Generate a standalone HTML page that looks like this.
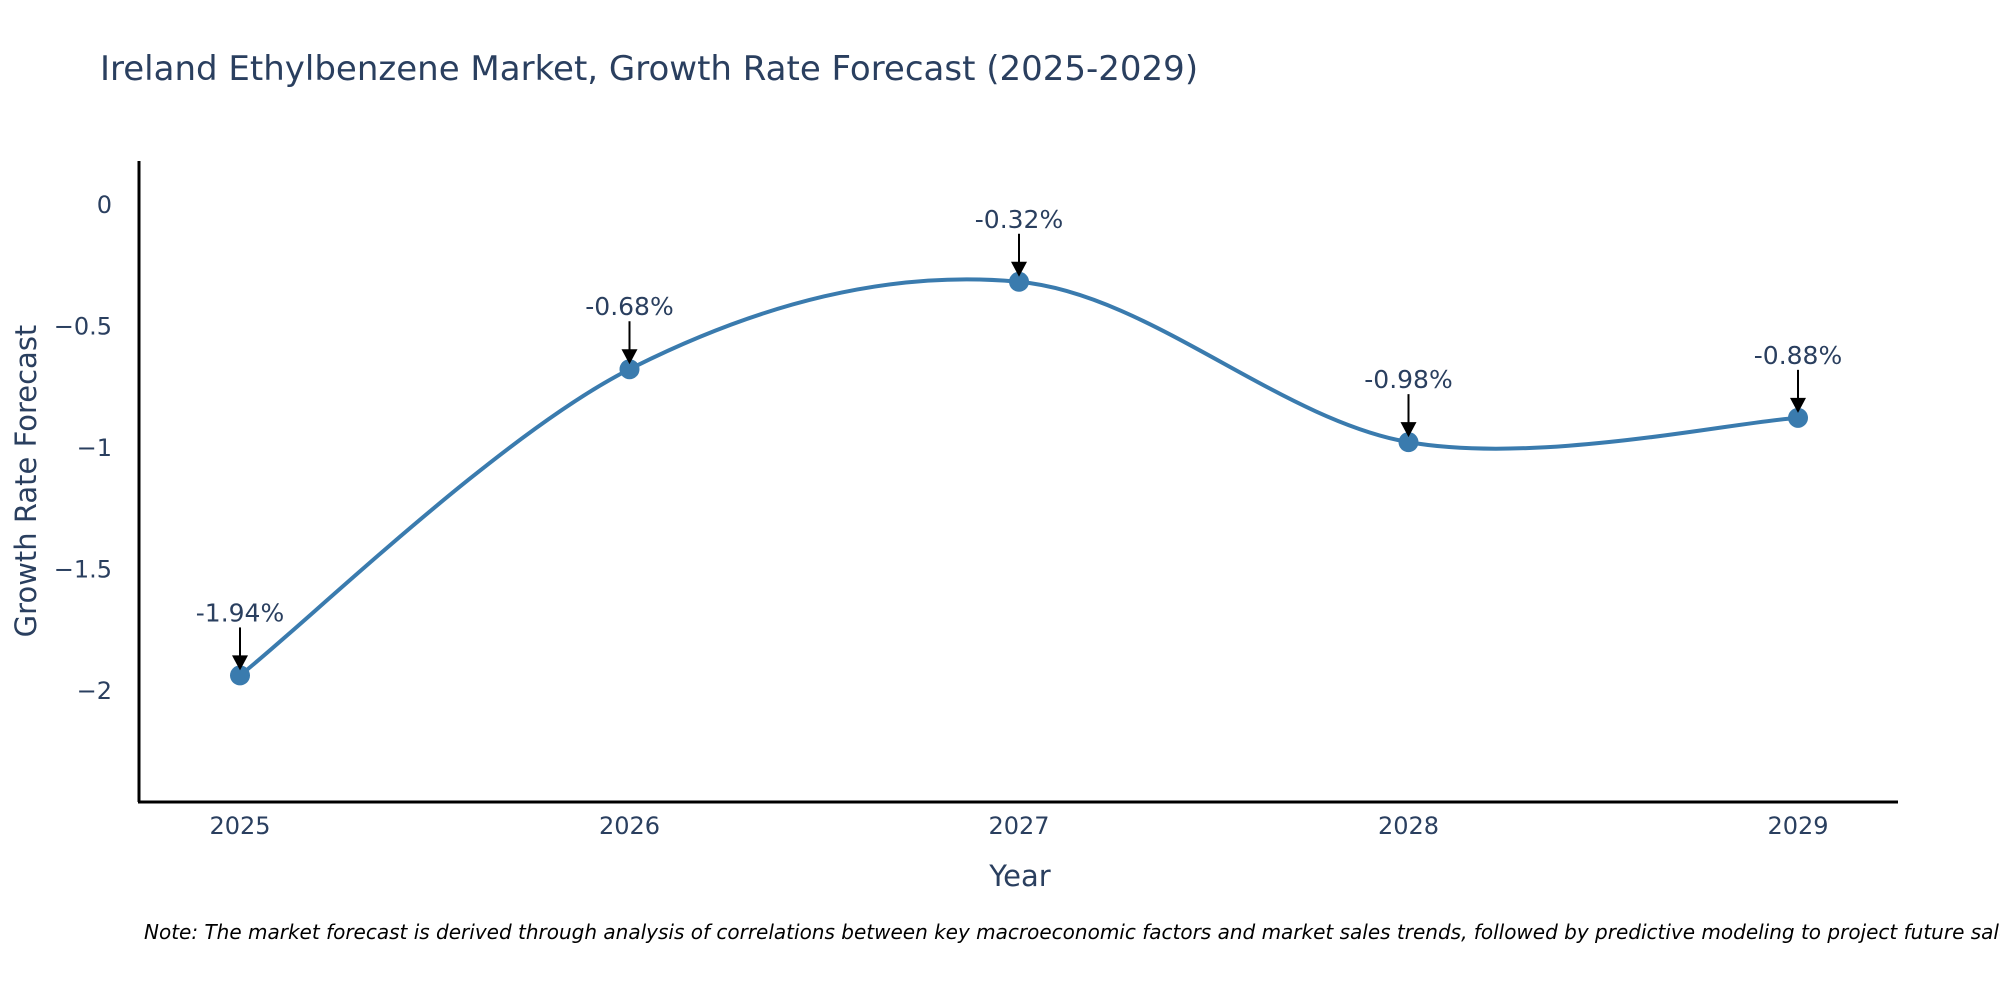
<!DOCTYPE html>
<html><head><meta charset="utf-8"><style>
body{margin:0;background:#fff;}
svg{display:block;font-family:"DejaVu Sans","Liberation Sans",sans-serif;}
</style></head><body>
<svg id="chart" width="2000" height="1000" viewBox="0 0 2000 1000">
<text x="100" y="80" font-size="34" fill="#2a3f5f">Ireland Ethylbenzene Market, Growth Rate Forecast (2025-2029)</text>
<g id="yticks"></g>
<g id="xticks"></g>
<path id="line" fill="none" stroke="#3a7bae" stroke-width="4"></path>
<g id="points"></g>
<g id="annots"></g>
<line x1="139" y1="161" x2="139" y2="802" stroke="#000" stroke-width="3"/>
<line x1="138" y1="802" x2="1898" y2="802" stroke="#000" stroke-width="3"/>
<text transform="translate(36,481) rotate(-90)" text-anchor="middle" font-size="29" fill="#2a3f5f">Growth Rate Forecast</text>
<text x="1020" y="886" text-anchor="middle" font-size="29" fill="#2a3f5f">Year</text>
<text x="144" y="939" font-size="20" font-style="italic" fill="#000">Note: The market forecast is derived through analysis of correlations between key macroeconomic factors and market sales trends, followed by predictive modeling to project future sales.</text>
</svg>
<script>
const years = [2025, 2026, 2027, 2028, 2029];
const growth = [-1.94, -0.68, -0.32, -0.98, -0.88];
const labels = ["-1.94%", "-0.68%", "-0.32%", "-0.98%", "-0.88%"];
const yTickVals = [0, -0.5, -1, -1.5, -2];
const yTickLabels = ["0", "\u22120.5", "\u22121", "\u22121.5", "\u22122"];

const NS = "http://www.w3.org/2000/svg";
function xs(v){ return 240 + (v - 2025) * 389.5; }
function ys(v){ return 204 - v * 243; }
function mk(tag, attrs, parent){
  const e = document.createElementNS(NS, tag);
  for (const k in attrs) e.setAttribute(k, attrs[k]);
  parent.appendChild(e); return e;
}
const yt = document.getElementById('yticks');
yTickVals.forEach((v,i)=>{
  const t = mk('text',{x:112,y:ys(v)+9,'text-anchor':'end','font-size':24,fill:'#2a3f5f'},yt);
  
  
  t.textContent = yTickLabels[i];
});
const xt = document.getElementById('xticks');
years.forEach(y=>{
  const t = mk('text',{x:xs(y),y:834,'text-anchor':'middle','font-size':24,fill:'#2a3f5f'},xt);
  
  
  t.textContent = String(y);
});
const P = years.map((y,i)=>[xs(y), ys(growth[i])]);
let d = `M${P[0][0]},${P[0][1]}`;
const s = 1/6;
for (let i=0;i<P.length-1;i++){
  const p0 = P[Math.max(0,i-1)], p1 = P[i], p2 = P[i+1], p3 = P[Math.min(P.length-1,i+2)];
  const c1 = [p1[0]+(p2[0]-p0[0])*s, p1[1]+(p2[1]-p0[1])*s];
  const c2 = [p2[0]-(p3[0]-p1[0])*s, p2[1]-(p3[1]-p1[1])*s];
  d += ` C${c1[0]},${c1[1]} ${c2[0]},${c2[1]} ${p2[0]},${p2[1]}`;
}
document.getElementById('line').setAttribute('d', d);
const pts = document.getElementById('points');
const an = document.getElementById('annots');
P.forEach((p,i)=>{
  const c = mk('circle',{cx:p[0],cy:p[1],r:10,fill:'#3a7bae'},pts);
  
  
  const g = mk('g',{},an);
  
  
  mk('line',{x1:p[0],y1:p[1]-48,x2:p[0],y2:p[1]-18,stroke:'#000','stroke-width':2},g);
  mk('polygon',{points:`${p[0]-8},${p[1]-20} ${p[0]+8},${p[1]-20} ${p[0]},${p[1]-5}`,fill:'#000'},g);
  const t = mk('text',{x:p[0],y:p[1]-54,'text-anchor':'middle','font-size':25,fill:'#2a3f5f'},g);
  t.textContent = labels[i];
});
</script>
</body></html>
